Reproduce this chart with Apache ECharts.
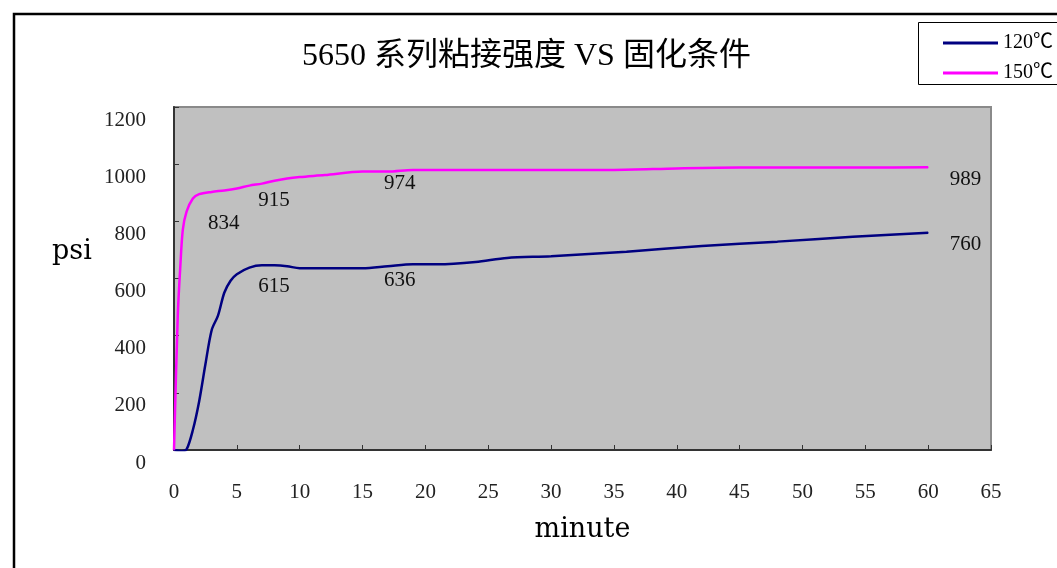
<!DOCTYPE html>
<html>
<head>
<meta charset="utf-8">
<script src="https://cdn.jsdelivr.net/npm/echarts@6/dist/echarts.min.js"></script>
<style>html,body{margin:0;padding:0;background:#fff;}#c{width:1057px;height:568px;}</style>
</head>
<body>
<div id="c"></div>
<script>
const titleText = '5650 系列粘接强度 VS 固化条件';
const seriesNames = ['120℃', '150℃'];
const xAxisName = 'minute';
const yAxisName = 'psi';
const xTicks = [0, 5, 10, 15, 20, 25, 30, 35, 40, 45, 50, 55, 60, 65];
const yTicks = [0, 200, 400, 600, 800, 1000, 1200];

const minutes120 = [0, 0.6, 1, 1.5, 2, 2.5, 3, 3.5, 4, 4.5, 5, 6, 7, 8, 9, 10, 12, 15, 17, 19, 21, 24, 26.5, 30, 36, 42, 48, 54, 60];
const psi120     = [0, -4, 2, 70, 170, 300, 420, 470, 550, 592, 615, 638, 646, 646, 643, 636, 636, 636, 643, 650, 650, 658, 672, 678, 694, 714, 729, 746, 760];
const labelAt120 = [5, 15, 60];

const minutes150 = [0, 0.3, 0.5, 0.7, 1, 1.5, 2, 3, 4, 5, 6, 7, 8, 9, 10, 12, 15, 17, 19, 25, 30, 35, 40, 45, 50, 55, 60];
const psi150     = [0, 470, 640, 770, 834, 880, 895, 903, 908, 915, 925, 932, 942, 950, 955, 962, 974, 974, 980, 980, 980, 980, 985, 988, 988, 988, 989];
const labelAt150 = [1, 5, 15, 60];

const serif = '"Liberation Serif", "Noto Sans CJK SC", serif';
const nameFont = '"DejaVu Serif", serif';

function build(xs, ys, labelAt) {
  return xs.map((x, i) => {
    const item = { value: [x, ys[i]] };
    if (labelAt.indexOf(x) >= 0) {
      item.label = {
        show: true, position: 'right', distance: 21, offset: [0, 12],
        formatter: String(ys[i]), fontSize: 21, fontFamily: serif, color: '#111'
      };
    }
    return item;
  });
}

const chart = echarts.init(document.getElementById('c'));
chart.setOption({
  backgroundColor: '#ffffff',
  animation: false,
  title: {
    text: titleText, left: 297, top: 36,
    textStyle: { fontSize: 32, fontWeight: 'normal', fontFamily: serif, color: '#000' }
  },
  legend: {
    orient: 'vertical', left: 938, top: 28,
    itemWidth: 55, itemHeight: 3, itemGap: 10, icon: 'rect',
    textStyle: { fontSize: 20, fontFamily: serif, color: '#000', lineHeight: 20 },
    data: seriesNames
  },
  graphic: [
    { type: 'rect', shape: { x: 14, y: 14, width: 1200, height: 700 }, style: { fill: 'none', stroke: '#000', lineWidth: 2.5 }, z: 100 },
    { type: 'rect', shape: { x: 918.5, y: 22.5, width: 160, height: 62 }, style: { fill: 'none', stroke: '#000', lineWidth: 1 }, z: 100 },
    { type: 'text', left: 52, top: 238, style: { text: yAxisName, fontSize: 27, fontFamily: nameFont, fill: '#000' } }
  ],
  grid: {
    left: 174, top: 107, right: 66, bottom: 118,
    show: true, backgroundColor: '#c0c0c0', borderColor: '#8a8a8a', borderWidth: 2
  },
  xAxis: {
    type: 'value', min: 0, max: 65, interval: 5,
    name: xAxisName, nameLocation: 'middle', nameGap: 66,
    nameTextStyle: { fontSize: 27, fontFamily: nameFont, color: '#000' },
    axisLine: { show: true, lineStyle: { color: '#333', width: 2 } },
    axisTick: { show: true, inside: true, length: 5, lineStyle: { color: '#333' } },
    axisLabel: { margin: 32, fontSize: 21, fontFamily: serif, color: '#222',
      formatter: v => (xTicks.indexOf(v) >= 0 ? String(v) : '') },
    splitLine: { show: false }
  },
  yAxis: {
    type: 'value', min: 0, max: 1200, interval: 200,
    axisLine: { show: true, lineStyle: { color: '#333', width: 2 } },
    axisTick: { show: true, inside: true, length: 5, lineStyle: { color: '#333' } },
    axisLabel: { margin: 28, fontSize: 21, fontFamily: serif, color: '#222', verticalAlign: 'top', lineHeight: 26,
      formatter: v => (yTicks.indexOf(v) >= 0 ? String(v) : '') },
    splitLine: { show: false }
  },
  series: [
    {
      name: seriesNames[0], type: 'line', smooth: 0.3,
      symbol: 'circle', symbolSize: 1, showSymbol: true,
      itemStyle: { color: '#000080' }, lineStyle: { color: '#000080', width: 2.5 },
      data: build(minutes120, psi120, labelAt120)
    },
    {
      name: seriesNames[1], type: 'line', smooth: 0.3,
      symbol: 'circle', symbolSize: 1, showSymbol: true,
      itemStyle: { color: '#ff00ff' }, lineStyle: { color: '#ff00ff', width: 2.5 },
      data: build(minutes150, psi150, labelAt150)
    }
  ]
});
</script>
</body>
</html>
